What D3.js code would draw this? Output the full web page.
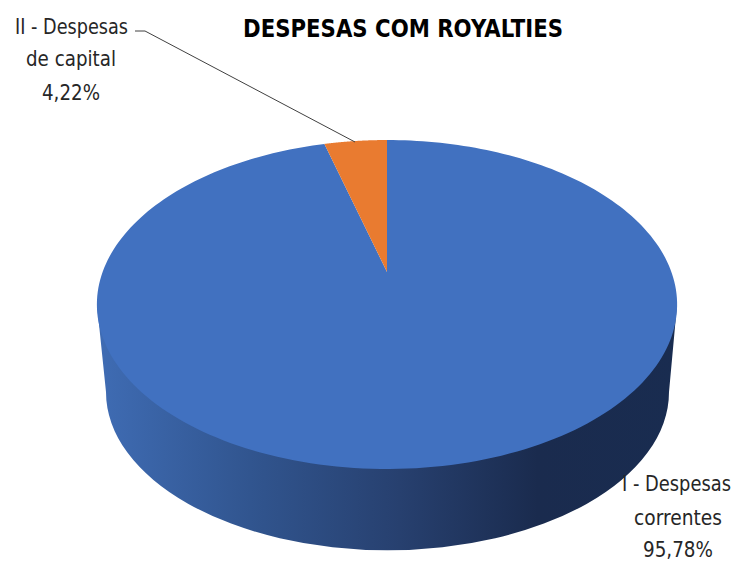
<!DOCTYPE html>
<html>
<head>
<meta charset="utf-8">
<script src="https://cdn.jsdelivr.net/npm/d3@7"></script>
<style>
  html, body { margin: 0; background: #fff; }
  svg { display: block; }
  text { font-family: "DejaVu Sans", sans-serif; fill: #262626; }
</style>
</head>
<body>
<script>
// Royalty spending split, drawn as a tilted 3D pie.
const categories = ["I - Despesas correntes", "II - Despesas de capital"];
const shares = [95.78, 4.22];
const sliceColors = ["#4171c0", "#e97b30"];
const chartTitle = "DESPESAS COM ROYALTIES";

const width = 733, height = 562;
const svg = d3.select("body").append("svg").attr("width", width).attr("height", height);

// Perspective mapping of the unit disc onto the tilted top face.
const cx = 387, cy = 272, spanX = 284.4, spanY = 104.3, tilt = -0.1976;
const project = (angle, r) => {
  const x = Math.sin(angle) * r, y = -Math.cos(angle) * r;
  const w = 1 + tilt * y;
  return [cx + spanX * x / w, (spanY * y + cy) / w];
};

// Side wall: lower rim plus the two silhouette edges.
const wallStops = [
  [0, "#3f6cb4"], [0.264, "#31558f"], [0.522, "#27406f"],
  [0.76, "#1a2b4e"], [1, "#192c50"]
];
const grad = svg.append("defs").append("linearGradient")
  .attr("id", "wall").attr("gradientUnits", "userSpaceOnUse")
  .attr("x1", 97).attr("x2", 677).attr("y1", 0).attr("y2", 0);
grad.selectAll("stop").data(wallStops).join("stop")
  .attr("offset", d => d[0]).attr("stop-color", d => d[1]);

svg.append("path")
  .attr("d", "M97,305 L106,392 A281,158 0 0 0 669,392 L677,305 Z")
  .attr("fill", "url(#wall)");

// Top face slices.
const pie = d3.pie().sort(null).value(d => d);
const line = d3.line();
svg.selectAll("path.slice").data(pie(shares)).join("path")
  .attr("class", "slice")
  .attr("fill", (d, i) => sliceColors[i])
  .attr("d", d => {
    const steps = d3.range(0, 241).map(k => d.startAngle + (d.endAngle - d.startAngle) * k / 240);
    return line([[cx, cy], ...steps.map(a => project(a, 1))]) + "Z";
  });

// Title and labels, each narrowed horizontally to its run length.
const addText = (str, x, y, size, len, weight) => {
  const t = svg.append("text")
    .attr("text-anchor", "middle")
    .attr("font-size", size)
    .attr("font-weight", weight || 400)
    .text(str);
  const k = len / t.node().getComputedTextLength();
  t.attr("transform", `translate(${x},${y}) scale(${k},1)`);
  return t;
};

addText(chartTitle, 403, 37, 25.5, 320, 700).style("fill", "#000");

const pct = v => d3.format(".2f")(v).replace(".", ",") + "%";

addText("II - Despesas", 71.5, 34, 22, 113);
addText("de capital", 71, 66, 22, 90);
addText(pct(shares[1]), 71, 100, 22, 58);

addText("I - Despesas", 676.5, 491, 22, 109);
addText("correntes", 678, 525, 22, 88);
addText(pct(shares[0]), 678, 556.5, 22, 70);

// Leader line to the small slice.
svg.append("path")
  .attr("d", line([[135, 31], [145, 31], [355, 142]]))
  .attr("fill", "none").attr("stroke", "#404040").attr("stroke-width", 1);
</script>
</body>
</html>
